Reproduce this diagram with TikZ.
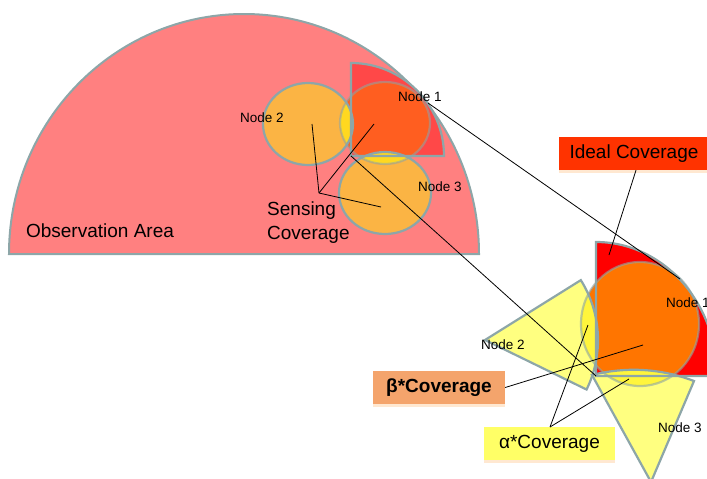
\documentclass[tikz,border=0pt]{standalone}
\usepackage{fontspec}
\setmainfont{Liberation Sans}
\usetikzlibrary{shadows}

\definecolor{obsfill}{HTML}{FF8080}
\definecolor{rim}{HTML}{8DA6A8}
\definecolor{secsmall}{HTML}{FF4848}
\definecolor{nodeone}{HTML}{FF5E20}
\definecolor{nodeother}{HTML}{FBB444}
\definecolor{lenssmall}{HTML}{FFD820}
\definecolor{secbig}{HTML}{FF0000}
\definecolor{circbig}{HTML}{FF7500}
\definecolor{wedge}{HTML}{FFFF80}
\definecolor{lensbig}{HTML}{FFF53C}
\definecolor{idealbox}{HTML}{FF3300}
\definecolor{betabox}{HTML}{F4A46C}
\definecolor{alphabox}{HTML}{FFFF66}

% shapes reused for fills, clips and outlines
\def\secS{(351,-156) -- (444,-156) arc[start angle=0,end angle=90,radius=93] -- cycle}
\def\cOneS{(385,-123) ellipse [x radius=45,y radius=41]}
\def\cTwoS{(308,-124) ellipse [x radius=45,y radius=41]}
\def\cThreeS{(385,-193) ellipse [x radius=46,y radius=41]}
\def\secB{(596,-376) -- (717,-376) arc[start angle=0,end angle=90,x radius=121,y radius=134] -- cycle}
\def\cOneB{(640,-324) ellipse [x radius=59,y radius=62]}
\def\wTwo{(485,-340) -- ++(32:113) arc[start angle=32,end angle=-26,radius=113] -- cycle}
\def\wThree{(651,-482) -- (592,-375) .. controls (626.6,-366.4) and (660.6,-368.4) .. (694,-381) -- cycle}

\begin{document}
\begin{tikzpicture}[x=1pt,y=1pt,
  rimline/.style={draw=rim,line width=2.2pt},
  pointer/.style={draw=black,line width=0.8pt},
  nodelabel/.style={font=\fontsize{13.5}{15}\selectfont,inner sep=0pt},
  biglabel/.style={font=\fontsize{19}{24}\selectfont,inner sep=0pt},
  tagbox/.style={font=\fontsize{19}{22}\selectfont,minimum height=33pt,inner sep=0pt,
    drop shadow={shadow xshift=0pt,shadow yshift=-3pt,opacity=0.18,fill=orange}}]

\useasboundingbox (0,0) rectangle (707,-479);
\clip (0,0) rectangle (707,-479);

% observation area (half disc)
\fill[obsfill] (9,-254) arc[start angle=180,end angle=0,x radius=235,y radius=240] -- cycle;
\draw[rimline,line width=2pt] (9,-254) arc[start angle=180,end angle=0,x radius=235,y radius=240] -- cycle;

% small cluster
\fill[secsmall] \secS;
\fill[nodeother] \cTwoS;
\fill[nodeother] \cThreeS;
\fill[nodeone] \cOneS;
\begin{scope}
  \clip \cOneS;
  \fill[lenssmall] \cTwoS;
  \fill[lenssmall] \cThreeS;
\end{scope}
\draw[rimline] \cTwoS;
\draw[rimline] \cThreeS;
\draw[rimline,draw opacity=0.55] \cOneS;
\draw[rimline] \secS;

% large cluster
\fill[secbig] \secB;
\fill[circbig] \cOneB;
\fill[wedge] \wTwo;
\fill[wedge] \wThree;
\begin{scope}
  \clip \cOneB;
  \fill[lensbig] \wTwo;
  \fill[lensbig] \wThree;
\end{scope}
\draw[rimline] \secB;
\draw[rimline] \wTwo;
\draw[rimline] \wThree;
\draw[rimline,draw opacity=0.6] \cOneB;

% anchor points on the shapes
\coordinate (s1c) at (374,-124);
\coordinate (s2c) at (312,-124);
\coordinate (s3c) at (381,-207);
\coordinate (secScorner) at (351,-156);
\coordinate (secSarc) at (428,-103);
\coordinate (secBcorner) at (596,-376);
\coordinate (secBarc) at (680,-279);
\coordinate (secBin) at (609,-255);
\coordinate (b1c) at (643,-345);
\coordinate (w2in) at (588,-325);
\coordinate (w3in) at (629,-379);
\coordinate (sensehub) at (319,-193);

% labels
\node[nodelabel] (n1s) at (420,-97) {Node 1};
\node[nodelabel] (n2s) at (262,-118) {Node 2};
\node[nodelabel] (n3s) at (440,-187) {Node 3};
\node[biglabel,align=left,anchor=north west] (sense) at (267,-202) {Sensing\\Coverage};
\node[biglabel] (obs) at (100,-231) {Observation Area};

\node[nodelabel,anchor=west] (n1b) at (666,-303) {Node 1};
\node[nodelabel] (n2b) at (503,-345) {Node 2};
\node[nodelabel] (n3b) at (680,-428) {Node 3};

\node[tagbox,fill=idealbox,minimum width=150pt] (ideal) at (634,-153.5) {Ideal Coverage};
\node[tagbox,fill=betabox,minimum width=132pt] (beta) at (439,-387.5) {\bfseries β*Coverage};
\node[tagbox,fill=alphabox,minimum width=131pt] (alpha) at (549.5,-443.5) {α*Coverage};

% connectors
\draw[pointer] (sensehub) -- (s2c);
\draw[pointer] (sensehub) -- (s1c);
\draw[pointer] (sensehub) -- (s3c);
\draw[pointer] (secScorner) -- (secBcorner);
\draw[pointer] (secSarc) -- (secBarc);
\draw[pointer] (ideal.south) ++(2,0) coordinate (idealfoot) -- (secBin);
\draw[pointer] (beta.east) -- (b1c);
\coordinate (alphatop) at (550,-427);
\draw[pointer] (alphatop) -- (w2in);
\draw[pointer] (alphatop) -- (w3in);

\end{tikzpicture}
\end{document}
